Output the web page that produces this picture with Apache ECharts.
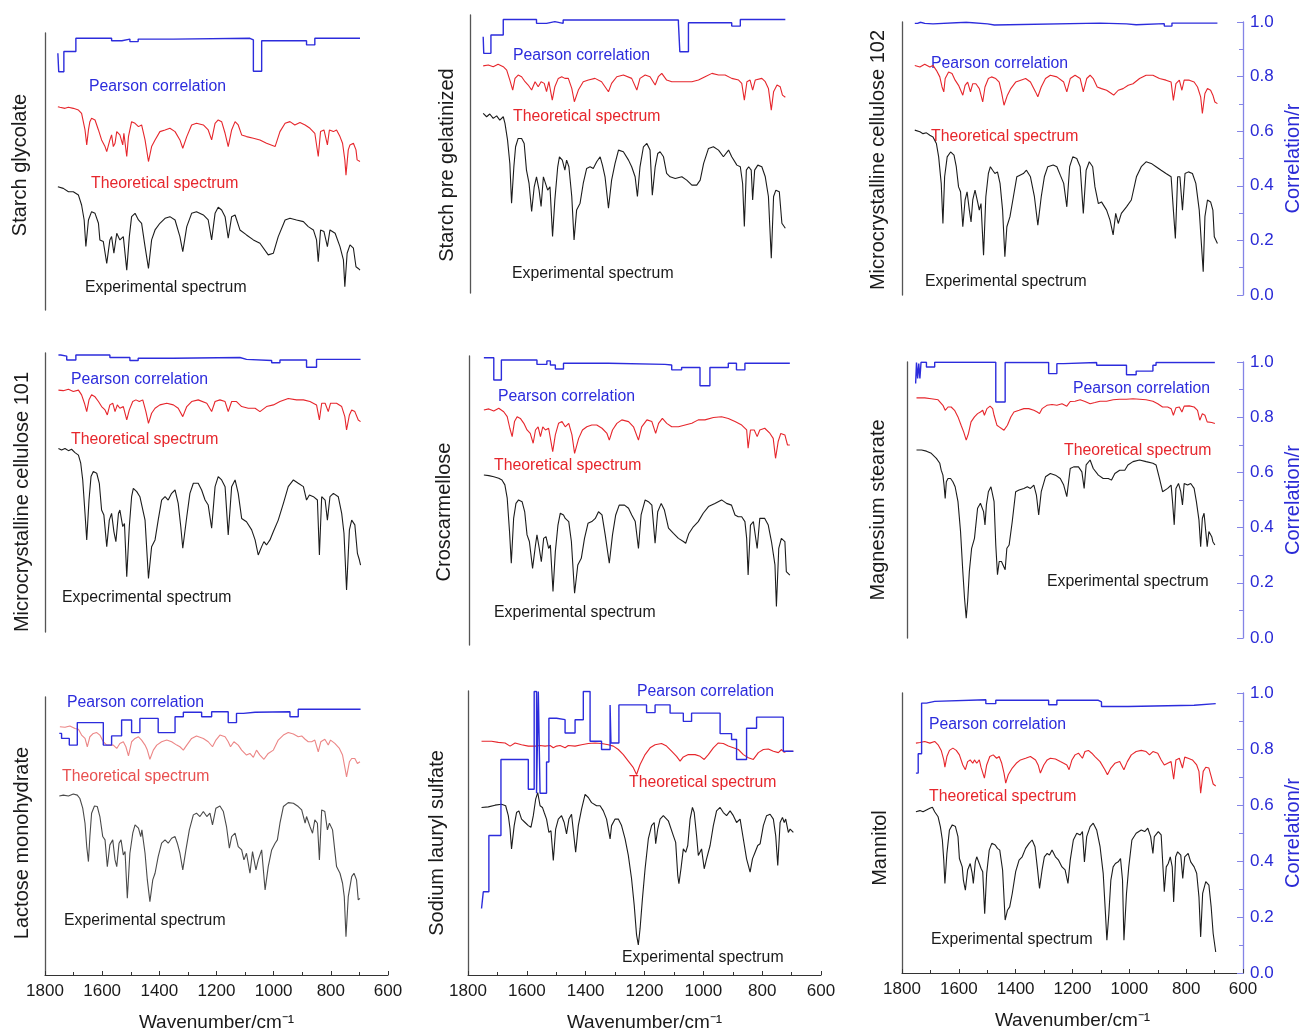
<!DOCTYPE html>
<html><head><meta charset="utf-8">
<script src="https://cdn.jsdelivr.net/npm/echarts@6/dist/echarts.min.js"></script>
<style>html,body{margin:0;padding:0;background:#fff}#c{width:1304px;height:1033px}</style>
</head><body><div id="c"></div>
<script>
// ---------- DATA: [wavenumber (cm-1), value on the 0–1 correlation scale] ----------
const xTicks = [1800,1600,1400,1200,1000,800,600];
const corrTicks = [0,0.2,0.4,0.6,0.8,1.0];

// Starch glycolate
const sgPearson = [[1755,0.927],[1752,0.86],[1734,0.933],[1692,0.981],[1567,0.972],[1531,0.978],[1503,0.969],[1474,0.978],[1351,0.981],[1083,0.975],[1071,0.862],[1042,0.972],[885,0.957],[856,0.981],[698,0.981]];
const sgTheo = [[1755,0.734],[1748,0.732],[1730,0.728],[1718,0.732],[1701,0.728],[1683,0.722],[1672,0.71],[1660,0.65],[1654,0.596],[1648,0.65],[1643,0.68],[1637,0.692],[1625,0.686],[1613,0.65],[1602,0.614],[1590,0.59],[1584,0.572],[1573,0.614],[1567,0.632],[1561,0.59],[1555,0.602],[1549,0.644],[1538,0.632],[1528,0.596],[1524,0.638],[1514,0.554],[1508,0.626],[1497,0.68],[1485,0.674],[1473,0.662],[1462,0.668],[1450,0.614],[1438,0.536],[1427,0.59],[1415,0.614],[1398,0.644],[1380,0.65],[1363,0.656],[1345,0.644],[1328,0.614],[1318,0.584],[1304,0.626],[1287,0.668],[1270,0.674],[1246,0.668],[1229,0.65],[1217,0.614],[1205,0.674],[1194,0.686],[1182,0.68],[1170,0.638],[1159,0.59],[1147,0.65],[1135,0.68],[1124,0.668],[1112,0.632],[1095,0.626],[1071,0.62],[1048,0.614],[1025,0.602],[995,0.59],[978,0.644],[960,0.674],[943,0.68],[926,0.668],[908,0.677],[890,0.668],[873,0.656],[856,0.638],[844,0.554],[836,0.644],[824,0.65],[812,0.596],[805,0.65],[791,0.644],[780,0.65],[768,0.626],[759,0.602],[751,0.542],[747,0.487],[739,0.578],[733,0.596],[721,0.602],[712,0.578],[708,0.542],[698,0.536]];
const sgExp = [[1755,0.445],[1736,0.439],[1718,0.427],[1701,0.427],[1683,0.415],[1672,0.379],[1663,0.325],[1657,0.229],[1648,0.325],[1637,0.355],[1625,0.349],[1613,0.313],[1608,0.253],[1596,0.247],[1584,0.168],[1573,0.253],[1567,0.265],[1559,0.205],[1549,0.277],[1538,0.253],[1526,0.265],[1514,0.144],[1505,0.265],[1497,0.337],[1485,0.349],[1473,0.325],[1462,0.313],[1450,0.229],[1438,0.15],[1427,0.253],[1415,0.289],[1398,0.313],[1380,0.331],[1363,0.337],[1345,0.325],[1328,0.265],[1318,0.211],[1304,0.301],[1287,0.349],[1270,0.355],[1246,0.343],[1229,0.325],[1217,0.253],[1205,0.349],[1194,0.371],[1182,0.361],[1170,0.337],[1159,0.259],[1147,0.337],[1135,0.343],[1118,0.289],[1095,0.271],[1071,0.253],[1048,0.241],[1019,0.199],[1001,0.205],[984,0.265],[960,0.325],[943,0.331],[920,0.325],[896,0.319],[879,0.301],[861,0.289],[850,0.253],[844,0.174],[836,0.289],[824,0.283],[812,0.229],[803,0.289],[785,0.277],[768,0.229],[756,0.181],[751,0.084],[743,0.205],[733,0.235],[721,0.223],[712,0.156],[704,0.15],[698,0.144]];

// Starch pre gelatinized
const spgPearson = [[1754,0.922],[1752,0.862],[1727,0.928],[1684,0.984],[1568,0.97],[1533,0.976],[1504,0.97],[1475,0.982],[1073,0.972],[1068,0.868],[1038,0.972],[887,0.96],[857,0.984],[700,0.984]];
const spgTheo = [[1754,0.817],[1736,0.82],[1719,0.814],[1702,0.823],[1684,0.814],[1672,0.802],[1661,0.766],[1651,0.73],[1643,0.772],[1632,0.784],[1620,0.778],[1608,0.76],[1597,0.748],[1585,0.73],[1573,0.76],[1562,0.742],[1552,0.76],[1541,0.754],[1533,0.724],[1525,0.76],[1513,0.694],[1504,0.742],[1492,0.772],[1480,0.778],[1469,0.772],[1457,0.772],[1445,0.736],[1436,0.688],[1422,0.73],[1405,0.76],[1387,0.766],[1364,0.772],[1341,0.76],[1329,0.742],[1317,0.724],[1306,0.754],[1288,0.778],[1265,0.784],[1236,0.772],[1218,0.73],[1207,0.772],[1189,0.784],[1172,0.778],[1154,0.748],[1143,0.778],[1131,0.79],[1114,0.766],[1096,0.76],[1061,0.76],[1026,0.76],[1003,0.766],[980,0.778],[956,0.79],[933,0.784],[910,0.784],[887,0.772],[863,0.766],[852,0.754],[843,0.694],[834,0.76],[823,0.766],[814,0.73],[805,0.766],[782,0.772],[770,0.76],[759,0.736],[749,0.658],[741,0.724],[729,0.748],[718,0.742],[710,0.712],[700,0.704]];
const spgExp = [[1754,0.646],[1742,0.634],[1731,0.644],[1719,0.628],[1707,0.637],[1696,0.622],[1684,0.634],[1678,0.61],[1669,0.55],[1661,0.466],[1655,0.323],[1647,0.454],[1641,0.526],[1632,0.556],[1620,0.556],[1611,0.538],[1603,0.442],[1594,0.394],[1585,0.293],[1576,0.382],[1568,0.418],[1559,0.37],[1552,0.311],[1544,0.418],[1538,0.424],[1529,0.37],[1521,0.382],[1512,0.203],[1504,0.335],[1494,0.454],[1488,0.49],[1478,0.478],[1469,0.442],[1463,0.478],[1455,0.454],[1445,0.347],[1437,0.191],[1428,0.299],[1416,0.323],[1405,0.394],[1393,0.448],[1381,0.454],[1370,0.448],[1358,0.472],[1346,0.49],[1338,0.46],[1329,0.418],[1317,0.305],[1306,0.406],[1294,0.466],[1282,0.514],[1265,0.508],[1247,0.478],[1236,0.454],[1224,0.418],[1216,0.347],[1207,0.454],[1195,0.526],[1183,0.538],[1172,0.514],[1164,0.352],[1154,0.454],[1145,0.502],[1137,0.508],[1125,0.49],[1114,0.43],[1102,0.418],[1084,0.412],[1061,0.418],[1044,0.406],[1026,0.388],[1009,0.388],[997,0.406],[985,0.466],[968,0.52],[951,0.526],[933,0.514],[916,0.49],[898,0.514],[887,0.49],[869,0.46],[857,0.454],[849,0.394],[843,0.239],[836,0.442],[828,0.454],[819,0.442],[814,0.335],[807,0.442],[796,0.46],[782,0.454],[770,0.418],[759,0.347],[749,0.125],[741,0.347],[733,0.37],[721,0.364],[712,0.251],[706,0.251],[700,0.233]];

// Microcrystalline cellulose 102
const mcc2Pearson = [[1755,0.995],[1745,0.999],[1735,0.995],[1720,0.993],[1691,0.999],[1574,0.993],[1499,0.989],[1475,0.996],[1103,0.993],[1010,0.99],[976,0.994],[877,0.985],[850,0.996],[690,0.996]];
const mcc2Theo = [[1755,0.841],[1737,0.835],[1720,0.845],[1702,0.835],[1691,0.841],[1679,0.823],[1667,0.799],[1659,0.762],[1653,0.744],[1648,0.793],[1636,0.817],[1624,0.811],[1613,0.787],[1601,0.768],[1586,0.732],[1578,0.768],[1569,0.78],[1559,0.744],[1551,0.774],[1540,0.774],[1528,0.756],[1516,0.707],[1508,0.762],[1496,0.793],[1485,0.799],[1470,0.793],[1458,0.78],[1450,0.744],[1441,0.695],[1429,0.732],[1417,0.756],[1400,0.78],[1382,0.787],[1365,0.793],[1348,0.78],[1330,0.744],[1322,0.726],[1310,0.762],[1295,0.793],[1278,0.805],[1255,0.799],[1231,0.78],[1220,0.744],[1208,0.793],[1191,0.805],[1173,0.793],[1162,0.744],[1150,0.793],[1138,0.805],[1127,0.793],[1113,0.762],[1098,0.756],[1080,0.75],[1063,0.738],[1055,0.732],[1039,0.75],[1022,0.756],[1004,0.768],[987,0.774],[964,0.793],[941,0.805],[917,0.805],[894,0.793],[871,0.787],[853,0.78],[845,0.713],[836,0.774],[824,0.787],[815,0.75],[807,0.787],[789,0.787],[772,0.78],[760,0.762],[749,0.726],[743,0.665],[734,0.738],[725,0.756],[714,0.75],[706,0.732],[699,0.707],[690,0.701]];
const mcc2Exp = [[1755,0.604],[1737,0.598],[1726,0.591],[1714,0.594],[1702,0.585],[1691,0.579],[1679,0.555],[1671,0.506],[1662,0.409],[1656,0.262],[1650,0.433],[1641,0.506],[1629,0.524],[1617,0.512],[1609,0.47],[1601,0.396],[1594,0.378],[1586,0.25],[1578,0.348],[1571,0.378],[1563,0.311],[1557,0.268],[1551,0.348],[1543,0.384],[1534,0.341],[1528,0.311],[1522,0.335],[1513,0.146],[1505,0.36],[1496,0.445],[1489,0.47],[1481,0.457],[1473,0.445],[1464,0.451],[1455,0.409],[1446,0.311],[1438,0.14],[1431,0.25],[1420,0.287],[1408,0.36],[1396,0.433],[1385,0.439],[1373,0.445],[1362,0.457],[1348,0.433],[1334,0.36],[1322,0.256],[1310,0.36],[1299,0.433],[1287,0.47],[1268,0.476],[1255,0.47],[1243,0.439],[1231,0.409],[1220,0.323],[1210,0.47],[1199,0.506],[1185,0.5],[1173,0.47],[1162,0.299],[1152,0.457],[1141,0.488],[1129,0.47],[1121,0.396],[1109,0.335],[1098,0.341],[1080,0.311],[1068,0.274],[1057,0.22],[1048,0.299],[1039,0.262],[1028,0.299],[1010,0.323],[993,0.348],[975,0.433],[958,0.47],[941,0.488],[923,0.482],[906,0.47],[888,0.457],[871,0.445],[853,0.433],[845,0.311],[838,0.207],[830,0.433],[822,0.433],[813,0.311],[804,0.445],[792,0.451],[778,0.445],[766,0.409],[754,0.311],[745,0.165],[740,0.085],[734,0.287],[725,0.348],[714,0.341],[706,0.311],[701,0.213],[694,0.207],[690,0.189]];

// Microcrystalline cellulose 101
const mcc1Pearson = [[1753,0.993],[1745,0.989],[1724,0.975],[1692,0.993],[1573,0.984],[1503,0.973],[1474,0.981],[1351,0.984],[1118,0.977],[1095,0.973],[1007,0.965],[978,0.975],[885,0.949],[850,0.977],[696,0.977]];
const mcc1Theo = [[1753,0.867],[1736,0.865],[1718,0.87],[1701,0.862],[1683,0.867],[1672,0.85],[1662,0.82],[1654,0.79],[1646,0.832],[1637,0.85],[1625,0.843],[1613,0.826],[1602,0.808],[1590,0.796],[1582,0.778],[1573,0.814],[1563,0.82],[1555,0.79],[1547,0.814],[1538,0.802],[1526,0.808],[1514,0.76],[1505,0.796],[1493,0.826],[1482,0.832],[1470,0.826],[1458,0.832],[1447,0.79],[1438,0.748],[1427,0.784],[1415,0.802],[1398,0.814],[1374,0.82],[1351,0.814],[1334,0.802],[1318,0.772],[1304,0.808],[1287,0.826],[1264,0.832],[1234,0.82],[1217,0.79],[1205,0.826],[1188,0.832],[1170,0.826],[1159,0.79],[1147,0.826],[1130,0.826],[1112,0.808],[1089,0.802],[1065,0.802],[1048,0.79],[1025,0.808],[1001,0.814],[978,0.826],[949,0.837],[920,0.832],[896,0.832],[873,0.826],[850,0.814],[840,0.76],[832,0.82],[820,0.82],[809,0.79],[801,0.82],[780,0.82],[762,0.808],[751,0.772],[745,0.724],[735,0.778],[727,0.796],[716,0.79],[704,0.76],[696,0.754]];
const mcc1Exp = [[1753,0.658],[1742,0.652],[1730,0.658],[1718,0.65],[1707,0.655],[1695,0.643],[1683,0.634],[1675,0.605],[1668,0.545],[1660,0.425],[1654,0.33],[1646,0.473],[1639,0.557],[1631,0.575],[1619,0.569],[1610,0.533],[1602,0.437],[1594,0.419],[1584,0.306],[1575,0.401],[1567,0.425],[1559,0.36],[1552,0.324],[1543,0.425],[1538,0.437],[1528,0.378],[1522,0.389],[1514,0.198],[1505,0.378],[1497,0.485],[1491,0.515],[1479,0.503],[1468,0.485],[1462,0.491],[1450,0.401],[1438,0.192],[1427,0.306],[1415,0.33],[1404,0.401],[1392,0.473],[1380,0.485],[1369,0.473],[1357,0.497],[1345,0.509],[1334,0.461],[1325,0.378],[1318,0.3],[1304,0.413],[1293,0.497],[1281,0.533],[1264,0.533],[1252,0.509],[1240,0.473],[1229,0.455],[1217,0.372],[1205,0.521],[1194,0.557],[1182,0.545],[1170,0.521],[1159,0.348],[1147,0.521],[1135,0.545],[1124,0.497],[1112,0.407],[1095,0.395],[1077,0.366],[1065,0.33],[1054,0.276],[1042,0.306],[1034,0.324],[1025,0.312],[1013,0.33],[1001,0.36],[984,0.401],[966,0.461],[949,0.521],[931,0.545],[914,0.533],[896,0.521],[885,0.473],[875,0.491],[861,0.485],[847,0.473],[840,0.276],[832,0.485],[820,0.473],[812,0.401],[803,0.485],[791,0.497],[774,0.485],[762,0.425],[754,0.354],[745,0.151],[735,0.366],[727,0.401],[716,0.384],[707,0.282],[700,0.258],[696,0.24]];

// Croscarmellose
const ccPearson = [[1749,0.994],[1715,0.917],[1689,0.986],[1567,0.971],[1533,0.983],[1521,0.969],[1504,0.955],[1476,0.975],[1322,0.971],[1128,0.969],[1105,0.952],[1071,0.96],[1008,0.897],[974,0.96],[911,0.975],[883,0.952],[854,0.975],[700,0.975]];
const ccTheo = [[1749,0.813],[1732,0.817],[1715,0.81],[1698,0.819],[1681,0.807],[1669,0.79],[1660,0.75],[1652,0.721],[1644,0.773],[1635,0.79],[1624,0.784],[1612,0.767],[1601,0.744],[1590,0.732],[1580,0.698],[1572,0.744],[1563,0.755],[1555,0.721],[1547,0.755],[1538,0.744],[1527,0.75],[1513,0.669],[1504,0.727],[1493,0.767],[1481,0.773],[1470,0.755],[1458,0.767],[1447,0.727],[1438,0.663],[1424,0.715],[1411,0.744],[1396,0.755],[1379,0.761],[1362,0.761],[1344,0.75],[1327,0.732],[1319,0.709],[1308,0.744],[1293,0.767],[1276,0.779],[1253,0.773],[1236,0.755],[1219,0.709],[1208,0.755],[1190,0.779],[1173,0.773],[1160,0.732],[1150,0.767],[1137,0.784],[1122,0.767],[1105,0.755],[1082,0.755],[1059,0.761],[1036,0.767],[1014,0.779],[991,0.779],[962,0.787],[934,0.79],[911,0.784],[888,0.773],[865,0.761],[848,0.744],[843,0.681],[835,0.744],[822,0.744],[812,0.721],[803,0.744],[786,0.75],[768,0.732],[757,0.715],[749,0.646],[740,0.704],[731,0.732],[717,0.727],[708,0.692],[700,0.692]];
const ccExp = [[1749,0.588],[1732,0.586],[1715,0.582],[1698,0.577],[1687,0.571],[1677,0.554],[1669,0.508],[1661,0.392],[1655,0.283],[1647,0.438],[1639,0.49],[1630,0.502],[1618,0.496],[1609,0.461],[1601,0.381],[1593,0.358],[1582,0.265],[1572,0.346],[1567,0.381],[1559,0.334],[1552,0.288],[1544,0.369],[1536,0.375],[1527,0.334],[1521,0.346],[1512,0.185],[1504,0.323],[1495,0.415],[1487,0.456],[1476,0.45],[1470,0.438],[1458,0.427],[1449,0.358],[1438,0.179],[1427,0.277],[1415,0.3],[1404,0.369],[1392,0.421],[1379,0.427],[1367,0.438],[1356,0.461],[1344,0.45],[1333,0.381],[1319,0.283],[1308,0.381],[1297,0.45],[1285,0.484],[1267,0.484],[1253,0.473],[1242,0.45],[1230,0.427],[1219,0.334],[1210,0.45],[1196,0.502],[1185,0.496],[1173,0.484],[1162,0.352],[1153,0.461],[1141,0.49],[1130,0.467],[1116,0.404],[1099,0.386],[1082,0.369],[1065,0.358],[1057,0.352],[1046,0.386],[1031,0.409],[1014,0.427],[997,0.456],[979,0.479],[957,0.49],[934,0.502],[917,0.49],[900,0.484],[888,0.45],[877,0.444],[865,0.444],[854,0.427],[848,0.369],[843,0.242],[835,0.415],[825,0.427],[812,0.334],[803,0.438],[786,0.438],[774,0.415],[763,0.358],[751,0.277],[746,0.133],[738,0.334],[729,0.369],[717,0.358],[712,0.254],[706,0.254],[700,0.242]];

// Magnesium stearate
const msPearson = [[1752,0.922],[1749,0.998],[1745,0.94],[1741,0.994],[1737,0.94],[1733,0.999],[1714,0.982],[1685,0.999],[1470,0.855],[1437,0.998],[1284,0.958],[1255,0.994],[1231,0.998],[1115,0.988],[1010,0.954],[976,0.967],[917,0.988],[906,0.998],[699,0.996]];
const msTheo = [[1749,0.87],[1720,0.87],[1697,0.867],[1673,0.863],[1656,0.843],[1648,0.825],[1638,0.837],[1627,0.837],[1615,0.825],[1603,0.801],[1592,0.771],[1583,0.747],[1574,0.717],[1566,0.741],[1557,0.783],[1545,0.801],[1534,0.813],[1524,0.819],[1516,0.825],[1510,0.807],[1501,0.831],[1490,0.84],[1481,0.831],[1476,0.807],[1466,0.771],[1458,0.765],[1450,0.759],[1441,0.753],[1429,0.771],[1417,0.801],[1406,0.819],[1388,0.825],[1371,0.831],[1354,0.831],[1336,0.825],[1324,0.819],[1316,0.813],[1307,0.831],[1290,0.843],[1272,0.846],[1255,0.843],[1237,0.849],[1220,0.84],[1208,0.857],[1191,0.858],[1173,0.863],[1156,0.857],[1138,0.849],[1121,0.853],[1103,0.858],[1080,0.858],[1057,0.863],[1034,0.865],[1010,0.865],[987,0.867],[964,0.865],[941,0.863],[917,0.858],[900,0.849],[883,0.837],[865,0.837],[853,0.831],[845,0.807],[836,0.834],[824,0.837],[815,0.819],[807,0.84],[789,0.841],[772,0.837],[760,0.825],[752,0.789],[743,0.813],[734,0.807],[726,0.783],[720,0.789],[710,0.781],[699,0.777]];
const msExp = [[1749,0.681],[1731,0.681],[1714,0.677],[1697,0.669],[1679,0.651],[1667,0.633],[1662,0.608],[1656,0.59],[1652,0.554],[1648,0.506],[1644,0.566],[1638,0.578],[1629,0.578],[1621,0.566],[1613,0.548],[1603,0.494],[1594,0.386],[1586,0.241],[1580,0.145],[1574,0.072],[1569,0.133],[1563,0.241],[1555,0.325],[1545,0.361],[1534,0.47],[1524,0.488],[1520,0.482],[1513,0.458],[1508,0.41],[1503,0.482],[1496,0.53],[1487,0.548],[1480,0.542],[1476,0.494],[1470,0.337],[1464,0.229],[1458,0.277],[1450,0.277],[1443,0.277],[1437,0.247],[1431,0.325],[1423,0.337],[1412,0.422],[1400,0.53],[1388,0.536],[1371,0.542],[1359,0.548],[1348,0.542],[1336,0.554],[1327,0.518],[1319,0.446],[1310,0.53],[1295,0.584],[1278,0.596],[1260,0.59],[1243,0.578],[1231,0.554],[1220,0.512],[1208,0.614],[1196,0.62],[1179,0.62],[1167,0.602],[1159,0.542],[1152,0.627],[1138,0.645],[1127,0.614],[1109,0.59],[1092,0.578],[1074,0.578],[1063,0.572],[1051,0.596],[1034,0.608],[1016,0.608],[1005,0.627],[987,0.639],[964,0.645],[941,0.639],[917,0.633],[906,0.627],[894,0.578],[883,0.53],[865,0.542],[853,0.554],[848,0.494],[842,0.41],[836,0.542],[827,0.56],[819,0.53],[813,0.482],[807,0.56],[795,0.554],[784,0.56],[772,0.542],[764,0.494],[755,0.428],[749,0.331],[743,0.434],[737,0.452],[731,0.446],[726,0.331],[720,0.386],[710,0.367],[706,0.349],[699,0.337]];

// Lactose monohydrate
const lmPearson = [[1750,0.869],[1742,0.851],[1715,0.827],[1687,0.908],[1596,0.827],[1567,0.86],[1532,0.917],[1497,0.872],[1468,0.923],[1404,0.872],[1345,0.929],[1316,0.945],[1252,0.929],[1217,0.947],[1159,0.908],[1130,0.941],[1106,0.945],[1065,0.947],[943,0.929],[914,0.956],[696,0.956]];
const lmTheo = [[1748,0.893],[1730,0.891],[1713,0.896],[1695,0.887],[1683,0.884],[1672,0.863],[1660,0.851],[1652,0.821],[1643,0.857],[1631,0.869],[1619,0.872],[1608,0.863],[1596,0.839],[1584,0.827],[1573,0.827],[1561,0.827],[1549,0.815],[1538,0.833],[1526,0.839],[1517,0.821],[1508,0.788],[1497,0.839],[1485,0.851],[1473,0.857],[1462,0.845],[1450,0.827],[1442,0.809],[1433,0.776],[1421,0.809],[1409,0.827],[1392,0.839],[1374,0.845],[1357,0.839],[1339,0.827],[1328,0.821],[1316,0.809],[1304,0.827],[1287,0.851],[1270,0.86],[1246,0.851],[1229,0.839],[1214,0.821],[1202,0.845],[1188,0.863],[1170,0.857],[1159,0.839],[1151,0.821],[1139,0.839],[1124,0.827],[1112,0.809],[1095,0.791],[1083,0.797],[1071,0.783],[1060,0.809],[1048,0.791],[1034,0.776],[1019,0.797],[1001,0.809],[984,0.845],[966,0.863],[949,0.872],[931,0.867],[914,0.857],[902,0.86],[890,0.848],[879,0.839],[867,0.839],[856,0.845],[844,0.803],[835,0.839],[821,0.848],[809,0.827],[801,0.845],[786,0.833],[770,0.815],[759,0.791],[751,0.747],[745,0.713],[735,0.767],[727,0.779],[716,0.779],[707,0.761],[698,0.767]];
const lmExp = [[1750,0.644],[1736,0.647],[1718,0.644],[1701,0.651],[1687,0.647],[1678,0.635],[1668,0.6],[1660,0.546],[1654,0.462],[1648,0.408],[1643,0.498],[1637,0.582],[1627,0.608],[1617,0.606],[1608,0.57],[1598,0.498],[1590,0.486],[1582,0.39],[1573,0.468],[1563,0.486],[1555,0.414],[1549,0.39],[1541,0.474],[1534,0.486],[1526,0.432],[1520,0.444],[1512,0.276],[1503,0.438],[1493,0.51],[1485,0.54],[1473,0.528],[1465,0.498],[1461,0.522],[1450,0.438],[1442,0.342],[1433,0.264],[1423,0.342],[1415,0.366],[1404,0.426],[1392,0.474],[1380,0.486],[1369,0.474],[1357,0.492],[1345,0.498],[1337,0.474],[1328,0.438],[1318,0.378],[1307,0.45],[1295,0.522],[1281,0.576],[1270,0.582],[1258,0.57],[1246,0.588],[1234,0.57],[1223,0.582],[1214,0.54],[1202,0.6],[1188,0.608],[1176,0.588],[1165,0.534],[1155,0.456],[1147,0.498],[1135,0.51],[1124,0.462],[1112,0.45],[1104,0.414],[1095,0.438],[1083,0.366],[1074,0.444],[1062,0.378],[1054,0.414],[1042,0.45],[1030,0.306],[1019,0.39],[1007,0.45],[995,0.474],[987,0.486],[978,0.546],[966,0.606],[949,0.62],[931,0.618],[914,0.606],[902,0.594],[890,0.546],[885,0.57],[873,0.534],[864,0.51],[856,0.558],[847,0.546],[840,0.414],[832,0.594],[821,0.588],[812,0.522],[805,0.546],[794,0.522],[780,0.39],[768,0.366],[759,0.33],[753,0.282],[747,0.138],[739,0.282],[727,0.354],[719,0.366],[710,0.342],[704,0.27],[698,0.276]];

// Sodium lauryl sulfate
const slsPearson = [[1754,0.234],[1748,0.293],[1729,0.491],[1688,0.759],[1595,0.654],[1575,0.998],[1567,0.64],[1561,0.998],[1555,0.64],[1533,0.75],[1525,0.904],[1499,0.899],[1470,0.852],[1436,0.899],[1408,0.998],[1385,0.823],[1346,0.794],[1317,0.951],[1314,0.817],[1287,0.951],[1193,0.924],[1164,0.951],[1113,0.922],[1068,0.893],[1040,0.922],[943,0.85],[904,0.829],[887,0.759],[853,0.869],[819,0.908],[728,0.788],[694,0.788]];
const slsTheo = [[1754,0.823],[1720,0.823],[1697,0.819],[1674,0.817],[1657,0.806],[1640,0.817],[1618,0.811],[1595,0.806],[1572,0.806],[1555,0.808],[1538,0.806],[1521,0.808],[1510,0.8],[1499,0.806],[1487,0.808],[1470,0.8],[1459,0.808],[1436,0.806],[1414,0.811],[1391,0.815],[1368,0.817],[1346,0.815],[1323,0.811],[1306,0.806],[1289,0.794],[1272,0.776],[1255,0.753],[1238,0.73],[1227,0.706],[1215,0.741],[1198,0.776],[1181,0.8],[1164,0.811],[1142,0.815],[1125,0.806],[1108,0.788],[1091,0.77],[1079,0.753],[1068,0.768],[1051,0.776],[1028,0.776],[1011,0.77],[997,0.759],[983,0.776],[966,0.8],[949,0.817],[932,0.815],[915,0.806],[898,0.8],[881,0.794],[864,0.776],[847,0.765],[830,0.759],[813,0.783],[796,0.794],[779,0.796],[762,0.788],[745,0.783],[734,0.794],[725,0.784],[717,0.788],[705,0.788],[694,0.788]];
const slsExp = [[1754,0.59],[1731,0.592],[1708,0.598],[1686,0.601],[1672,0.596],[1663,0.561],[1657,0.514],[1652,0.444],[1643,0.526],[1635,0.572],[1627,0.578],[1618,0.549],[1606,0.537],[1595,0.526],[1586,0.52],[1578,0.561],[1570,0.619],[1563,0.642],[1555,0.596],[1547,0.59],[1541,0.572],[1533,0.549],[1525,0.502],[1518,0.508],[1510,0.403],[1502,0.514],[1493,0.549],[1482,0.561],[1473,0.537],[1465,0.497],[1457,0.549],[1448,0.566],[1442,0.561],[1434,0.432],[1425,0.526],[1414,0.584],[1402,0.636],[1391,0.625],[1380,0.607],[1374,0.613],[1363,0.596],[1351,0.596],[1340,0.578],[1329,0.549],[1317,0.479],[1312,0.526],[1300,0.549],[1289,0.549],[1278,0.526],[1266,0.479],[1255,0.421],[1244,0.339],[1235,0.246],[1227,0.141],[1221,0.106],[1215,0.164],[1207,0.269],[1198,0.374],[1187,0.479],[1176,0.526],[1167,0.537],[1162,0.462],[1155,0.514],[1147,0.549],[1136,0.561],[1119,0.543],[1102,0.491],[1094,0.467],[1087,0.351],[1083,0.322],[1076,0.374],[1068,0.444],[1060,0.432],[1053,0.456],[1045,0.549],[1037,0.59],[1031,0.572],[1023,0.491],[1017,0.421],[1006,0.444],[997,0.374],[989,0.409],[977,0.456],[966,0.526],[955,0.578],[943,0.59],[932,0.572],[921,0.561],[909,0.578],[898,0.561],[887,0.537],[875,0.549],[864,0.479],[853,0.409],[841,0.362],[833,0.409],[824,0.432],[815,0.456],[807,0.462],[796,0.526],[785,0.561],[773,0.566],[762,0.549],[754,0.491],[747,0.386],[739,0.537],[731,0.555],[725,0.537],[720,0.549],[711,0.502],[705,0.514],[694,0.502]];

// Mannitol
const mnPearson = [[1751,0.714],[1743,0.783],[1731,0.964],[1714,0.97],[1685,0.976],[1505,0.962],[1470,0.974],[1284,0.958],[1255,0.974],[1109,0.968],[1098,0.952],[1005,0.956],[772,0.962],[696,0.962]];
const mnTheo = [[1751,0.821],[1737,0.823],[1720,0.827],[1702,0.821],[1685,0.827],[1673,0.815],[1662,0.795],[1653,0.761],[1649,0.735],[1642,0.773],[1633,0.795],[1621,0.803],[1609,0.795],[1598,0.779],[1586,0.743],[1577,0.726],[1569,0.755],[1560,0.761],[1551,0.749],[1545,0.761],[1537,0.749],[1528,0.761],[1522,0.735],[1510,0.696],[1502,0.743],[1491,0.773],[1479,0.779],[1467,0.767],[1458,0.773],[1449,0.749],[1441,0.714],[1435,0.678],[1426,0.708],[1412,0.732],[1398,0.749],[1383,0.761],[1365,0.767],[1348,0.773],[1330,0.761],[1321,0.743],[1313,0.714],[1301,0.743],[1289,0.761],[1278,0.767],[1260,0.764],[1243,0.755],[1231,0.749],[1220,0.743],[1212,0.726],[1202,0.761],[1191,0.779],[1179,0.785],[1165,0.767],[1156,0.791],[1144,0.795],[1132,0.785],[1121,0.773],[1103,0.755],[1086,0.726],[1077,0.708],[1065,0.732],[1051,0.749],[1034,0.755],[1019,0.726],[1007,0.755],[993,0.779],[976,0.791],[958,0.795],[941,0.791],[929,0.779],[917,0.791],[900,0.785],[888,0.761],[877,0.743],[865,0.749],[853,0.755],[844,0.692],[836,0.761],[824,0.767],[813,0.732],[805,0.771],[793,0.767],[778,0.761],[763,0.743],[755,0.72],[749,0.642],[740,0.72],[731,0.735],[720,0.732],[712,0.702],[705,0.675],[696,0.668]];
const mnExp = [[1751,0.576],[1737,0.58],[1726,0.576],[1714,0.582],[1702,0.588],[1693,0.592],[1685,0.576],[1673,0.558],[1665,0.523],[1658,0.475],[1653,0.403],[1649,0.32],[1642,0.427],[1633,0.511],[1623,0.529],[1612,0.523],[1603,0.487],[1598,0.409],[1588,0.379],[1584,0.332],[1577,0.296],[1569,0.368],[1560,0.391],[1553,0.356],[1549,0.32],[1542,0.397],[1537,0.415],[1528,0.391],[1522,0.374],[1516,0.362],[1509,0.212],[1502,0.356],[1493,0.439],[1484,0.463],[1472,0.457],[1464,0.445],[1456,0.439],[1446,0.368],[1437,0.189],[1429,0.224],[1421,0.236],[1412,0.284],[1400,0.362],[1388,0.403],[1377,0.415],[1365,0.445],[1353,0.463],[1342,0.475],[1332,0.451],[1324,0.379],[1316,0.302],[1307,0.368],[1299,0.415],[1289,0.427],[1281,0.421],[1272,0.439],[1260,0.415],[1249,0.403],[1237,0.379],[1226,0.368],[1216,0.32],[1208,0.403],[1197,0.475],[1185,0.499],[1173,0.493],[1165,0.505],[1158,0.397],[1150,0.487],[1138,0.523],[1127,0.535],[1115,0.511],[1103,0.451],[1092,0.356],[1084,0.212],[1079,0.117],[1072,0.212],[1065,0.332],[1057,0.379],[1049,0.391],[1039,0.397],[1031,0.409],[1024,0.332],[1019,0.117],[1010,0.284],[1002,0.379],[991,0.475],[976,0.499],[958,0.511],[946,0.505],[935,0.517],[925,0.487],[917,0.427],[912,0.487],[898,0.505],[888,0.493],[883,0.403],[877,0.29],[870,0.379],[863,0.391],[856,0.415],[849,0.379],[844,0.254],[837,0.415],[830,0.433],[819,0.421],[812,0.338],[805,0.415],[793,0.427],[784,0.397],[772,0.379],[763,0.356],[755,0.272],[749,0.129],[742,0.284],[731,0.326],[720,0.314],[712,0.236],[705,0.141],[696,0.075]];

const sampleNames = ['Starch glycolate','Starch pre gelatinized','Microcrystalline cellulose 102','Microcrystalline cellulose 101','Croscarmellose','Magnesium stearate','Lactose monohydrate','Sodium lauryl sulfate','Mannitol'];
const expLabels = ['Experimental spectrum','Experimental spectrum','Experimental spectrum','Expecrimental spectrum','Experimental spectrum','Experimental spectrum','Experimental spectrum','Experimental spectrum','Experimental spectrum'];

// ---------- LAYOUT ----------
const BLUE='#2c2cdc', RED='#e6262c', BLACK='#1c1c1c';
const FONT='"Liberation Sans", Arial, Helvetica, sans-serif';
const panels = [
 {grid:{left:45,top:33,width:343,height:277}, data:[sgPearson,sgTheo,sgExp], right:false, bottom:false, name:[20,165], ann:[[89,87],[91,184],[85,288]]},
 {grid:{left:470,top:15,width:344,height:278}, data:[spgPearson,spgTheo,spgExp], right:false, bottom:false, name:[447,165], ann:[[513,56],[513,117],[512,274]]},
 {grid:{left:902,top:22,width:344,height:273}, data:[mcc2Pearson,mcc2Theo,mcc2Exp], right:true, bottom:false, name:[878,160], ann:[[931,64],[931,137],[925,282]]},
 {grid:{left:45,top:353,width:343,height:279}, data:[mcc1Pearson,mcc1Theo,mcc1Exp], right:false, bottom:false, name:[22,502], ann:[[71,380],[71,440],[62,598]]},
 {grid:{left:469,top:356,width:350,height:289}, data:[ccPearson,ccTheo,ccExp], right:false, bottom:false, name:[444,512], ann:[[498,397],[494,466],[494,613]]},
 {grid:{left:902,top:362,width:344,height:276}, data:[msPearson,msTheo,msExp], right:true, bottom:false, leftOffset:-5, name:[878,510], ann:[[1073,389],[1064,451],[1047,582]]},
 {grid:{left:45,top:697,width:343,height:278}, data:[lmPearson,lmTheo,lmExp], right:false, bottom:true, light:true, name:[22,843], ann:[[67,703],[62,777],[64,921]]},
 {grid:{left:468,top:691,width:353,height:286}, data:[slsPearson,slsTheo,slsExp], right:false, bottom:true, name:[437,843], ann:[[637,692],[629,783],[622,958]]},
 {grid:{left:902,top:693,width:344,height:280}, data:[mnPearson,mnTheo,mnExp], right:true, bottom:true, name:[880,848], ann:[[929,725],[929,797],[931,940]]}
];

const grids=[], xAxes=[], yAxes=[], series=[], graphics=[];
panels.forEach((p,i)=>{
  grids.push(Object.assign({containLabel:false}, p.grid));
  const xa = {gridIndex:i, type:'value', min:xTicks[xTicks.length-1], max:xTicks[0], interval:200, inverse:true,
    show:p.bottom, splitLine:{show:false}, minorSplitLine:{show:false}};
  if(p.bottom){
    Object.assign(xa,{
      axisLine:{show:true,lineStyle:{color:'#333',width:1}},
      axisTick:{show:true,inside:true,length:4,lineStyle:{color:'#333'}},
      minorTick:{show:true,splitNumber:2,length:3,lineStyle:{color:'#333'}},
      axisLabel:{show:true,fontSize:17,color:'#1a1a1a',margin:8,fontFamily:FONT,showMinLabel:true,showMaxLabel:true,
        formatter:v=>String(Math.round(v))},
      name:'Wavenumber/cm\u207B\u00B9', nameLocation:'middle', nameGap:38,
      nameTextStyle:{fontSize:19,color:'#1a1a1a',fontFamily:FONT}
    });
  }
  xAxes.push(xa);
  const leftIdx = yAxes.length;
  yAxes.push({gridIndex:i, type:'value', min:0, max:1, position:'left', offset:p.leftOffset||0,
    axisLine:{show:true,onZero:false,lineStyle:{color:'#555',width:1.3}},
    axisTick:{show:false}, axisLabel:{show:false}, splitLine:{show:false}});
  if(p.right){
    yAxes.push({gridIndex:i, type:'value', min:corrTicks[0], max:corrTicks[corrTicks.length-1], interval:0.2, position:'right',
      axisLine:{show:true,onZero:false,lineStyle:{color:'#8484e6',width:1.3}},
      axisTick:{show:true,inside:true,length:6,lineStyle:{color:'#8484e6'}},
      minorTick:{show:true,splitNumber:2,length:4,lineStyle:{color:'#8484e6'}},
      axisLabel:{show:true,color:'#2a2ad6',fontSize:17,margin:7,fontFamily:FONT,formatter:v=>v.toFixed(1)},
      splitLine:{show:false}, minorSplitLine:{show:false},
      name:'Correlation/r', nameLocation:'middle', nameGap:40, nameRotate:90,
      nameTextStyle:{color:'#2a2ad6',fontSize:20,fontFamily:FONT}});
  }
  const red = p.light ? '#ec8686' : RED;
  const blk = p.light ? '#4a4a4a' : BLACK;
  series.push({type:'line', xAxisIndex:i, yAxisIndex:leftIdx, data:p.data[0], step:'end', showSymbol:false, symbol:'none',
    lineStyle:{color:BLUE,width:1.4}, silent:true, z:3});
  series.push({type:'line', xAxisIndex:i, yAxisIndex:leftIdx, data:p.data[1], showSymbol:false, symbol:'none',
    lineStyle:{color:red,width:1.1}, silent:true, z:2});
  series.push({type:'line', xAxisIndex:i, yAxisIndex:leftIdx, data:p.data[2], showSymbol:false, symbol:'none',
    lineStyle:{color:blk,width:1.1}, silent:true, z:2});
  graphics.push({type:'text', x:p.name[0], y:p.name[1], rotation:Math.PI/2,
    style:{text:sampleNames[i], fill:'#1a1a1a', font:'20px '+FONT, align:'center', verticalAlign:'middle'}});
  const annTexts=[['Pearson correlation',BLUE],['Theoretical spectrum',p.light?'#e85050':RED],[expLabels[i],'#1a1a1a']];
  annTexts.forEach((t,k)=>{
    graphics.push({type:'text', x:p.ann[k][0], y:p.ann[k][1],
      style:{text:t[0], fill:t[1], font:'15.8px '+FONT, align:'left', verticalAlign:'middle'}});
  });
});

const chart = echarts.init(document.getElementById('c'), null, {renderer:'canvas'});
chart.setOption({
  animation:false, backgroundColor:'#fff',
  textStyle:{fontFamily:FONT},
  grid:grids, xAxis:xAxes, yAxis:yAxes, series:series, graphic:graphics
});
</script></body></html>
